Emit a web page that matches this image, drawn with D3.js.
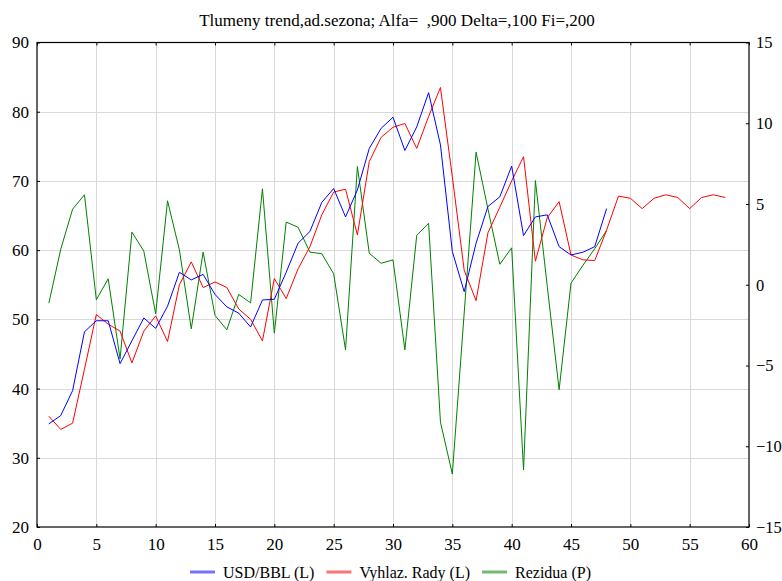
<!DOCTYPE html>
<html>
<head>
<meta charset="utf-8">
<script src="https://cdn.jsdelivr.net/npm/d3@7"></script>
<style>
  html, body { margin: 0; padding: 0; background: #fff; }
  svg text { font-family: "Liberation Serif", "Times New Roman", Times, serif; }
</style>
</head>
<body>
<svg id="chart" width="782" height="581"></svg>
<script>
// Monthly price (left axis), smoothed series with forecast (left axis), residuals (right axis)
const usdBbl = [34.9, 36.1, 39.7, 48.2, 49.8, 49.8, 43.6, 46.9, 50.2, 48.7,
  51.9, 56.8, 55.7, 56.5, 53.6, 51.8, 50.9, 48.9, 52.8, 52.9,
  56.8, 61.0, 62.7, 66.9, 68.9, 64.8, 68.7, 74.7, 77.6, 79.2,
  74.4, 77.8, 82.75, 75.2, 59.8, 54.0, 61.0, 66.3, 67.7, 72.15,
  62.1, 64.8, 65.1, 60.5, 59.3, 59.7, 60.5, 66.0];

const smoothed = [36.0, 34.1, 35.0, 42.8, 50.7, 49.3, 48.3, 43.7, 48.3, 50.5,
  46.8, 55.0, 58.3, 54.6, 55.4, 54.6, 51.5, 50.0, 46.9, 55.9,
  53.0, 57.3, 60.5, 65.1, 68.4, 68.8, 62.2, 72.8, 76.3, 77.75,
  78.3, 74.7, 79.3, 83.5, 70.6, 57.1, 52.7, 62.5, 66.2, 70.0,
  73.5, 58.4, 64.7, 67.0, 59.3, 58.6, 58.5, 62.9, 67.8, 67.5,
  66.0, 67.5, 68.0, 67.6, 66.0, 67.6, 68.0, 67.6];

const residuals = [-1.14, 2.2, 4.68, 5.57, -0.93, 0.37, -4.59, 3.26, 2.08, -1.8,
  5.2, 2.16, -2.73, 2.02, -1.9, -2.79, -0.6, -1.12, 5.94, -3.0,
  3.88, 3.56, 2.02, 1.92, 0.68, -4.03, 7.32, 1.95, 1.33, 1.54,
  -4.03, 3.05, 3.81, -8.51, -11.72, -1.75, 8.21, 4.7, 1.27, 2.29,
  -11.46, 6.45, -0.1, -6.5, 0.1, 1.2, 2.23, 3.36];

const xTicks = [0, 5, 10, 15, 20, 25, 30, 35, 40, 45, 50, 55, 60];
const leftTicks = [20, 30, 40, 50, 60, 70, 80, 90];
const rightTicks = [-15, -10, -5, 0, 5, 10, 15];

const titleText = "Tlumeny trend,ad.sezona; Alfa=  ,900 Delta=,100 Fi=,200";
const legendNames = ["USD/BBL (L)", "Vyhlaz. Rady (L)", "Rezidua (P)"];
const seriesColors = ["#0000ff", "#ff0000", "#008000"];

const FONT = "Liberation Serif";
const svg = d3.select("#chart");
const W = 782, H = 581;
const plot = { left: 37, right: 749, top: 42.5, bottom: 527 };

svg.append("rect").attr("width", W).attr("height", H).attr("fill", "#fff");

const x = d3.scaleLinear().domain([0, 60]).range([plot.left, plot.right]);
const yL = d3.scaleLinear().domain([20, 90]).range([plot.bottom, plot.top]);
const yR = d3.scaleLinear().domain([-15, 15]).range([plot.bottom, plot.top]);

// grid
const grid = svg.append("g").attr("stroke", "#d9d9d9").attr("stroke-width", 1);
grid.selectAll("line.v").data(xTicks.slice(1, -1)).join("line")
  .attr("x1", d => Math.round(x(d)) + 0.5).attr("x2", d => Math.round(x(d)) + 0.5)
  .attr("y1", plot.top).attr("y2", plot.bottom);
grid.selectAll("line.h").data(leftTicks.slice(1, -1)).join("line")
  .attr("y1", d => Math.round(yL(d)) + 0.5).attr("y2", d => Math.round(yL(d)) + 0.5)
  .attr("x1", plot.left).attr("x2", plot.right);

// axes with inward ticks
const fmt = d3.format("d");
const axisStyle = size => g => {
  g.attr("font-family", FONT).attr("font-size", size);
  g.select(".domain").remove();
  g.selectAll(".tick line").attr("stroke", "#000");
  g.selectAll(".tick text").attr("fill", "#000").attr("font-family", FONT);
};

svg.append("g").attr("transform", `translate(0,${plot.bottom})`)
  .call(d3.axisBottom(x).tickValues(xTicks).tickFormat(fmt).tickSize(-3).tickPadding(11))
  .call(axisStyle(17));
svg.append("g").attr("transform", `translate(0,${plot.top})`)
  .call(d3.axisTop(x).tickValues(xTicks).tickFormat("").tickSize(-3))
  .call(axisStyle(17));
svg.append("g").attr("transform", `translate(${plot.left},0)`)
  .call(d3.axisLeft(yL).tickValues(leftTicks).tickFormat(fmt).tickSize(-3).tickPadding(8))
  .call(axisStyle(17));
svg.append("g").attr("transform", `translate(${plot.right},0)`)
  .call(d3.axisRight(yR).tickValues(rightTicks).tickFormat(fmt).tickSize(-3).tickPadding(7))
  .call(axisStyle(16.5));

// frame
svg.append("rect")
  .attr("x", plot.left).attr("y", plot.top)
  .attr("width", plot.right - plot.left).attr("height", plot.bottom - plot.top)
  .attr("fill", "none").attr("stroke", "#000").attr("stroke-width", 1.2);

// series
const lineL = d3.line().x((d, i) => x(i + 1)).y(d => yL(d));
const lineR = d3.line().x((d, i) => x(i + 1)).y(d => yR(d));

const series = [
  { values: usdBbl, gen: lineL, color: seriesColors[0] },
  { values: smoothed, gen: lineL, color: seriesColors[1] },
  { values: residuals, gen: lineR, color: seriesColors[2] }
];
// green drawn first, then red, then blue on top
[series[2], series[1], series[0]].forEach(s => {
  svg.append("path")
    .attr("d", s.gen(s.values))
    .attr("fill", "none")
    .attr("stroke", s.color)
    .attr("stroke-width", 1)
    .attr("stroke-linejoin", "miter");
});

// title
svg.append("text")
  .attr("x", 397).attr("y", 26)
  .attr("text-anchor", "middle")
  .attr("font-family", FONT)
  .attr("font-size", 17)
  .style("white-space", "pre")
  .attr("xml:space", "preserve")
  .text(titleText);

// legend
const legend = svg.append("g").attr("transform", "translate(190,572)");
let lx = 0;
legendNames.forEach((name, i) => {
  const g = legend.append("g").attr("transform", `translate(${lx},0)`);
  g.append("line")
    .attr("x1", 0).attr("x2", 25).attr("y1", 0).attr("y2", 0)
    .attr("stroke", seriesColors[i]).attr("stroke-opacity", 0.55).attr("stroke-width", 3);
  const t = g.append("text")
    .attr("x", 33).attr("y", 0).attr("dy", "0.35em")
    .attr("font-family", FONT)
    .attr("font-size", 16)
    .text(name);
  lx += 33 + t.node().getComputedTextLength() + 12;
});
</script>
</body>
</html>
